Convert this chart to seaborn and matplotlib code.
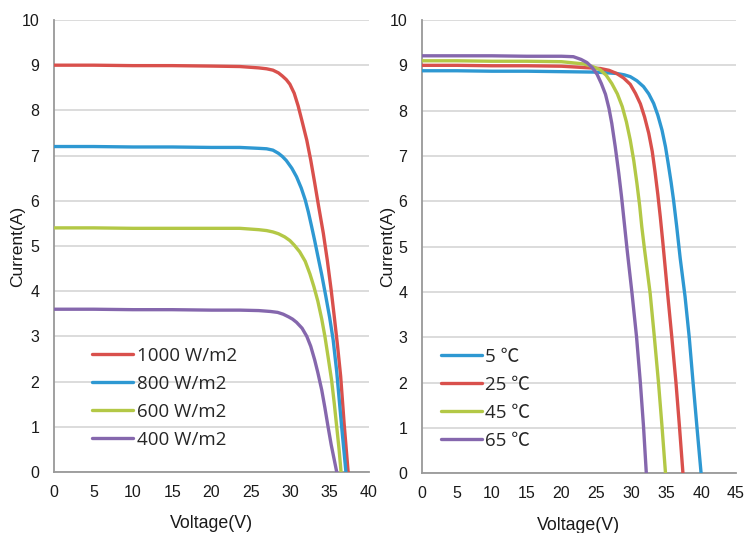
import numpy as np
import pandas as pd
import matplotlib
matplotlib.use("Agg")
import matplotlib.pyplot as plt
from matplotlib.font_manager import FontProperties
import seaborn as sns

# ---- I-V curves at different irradiance (25 C) ----
irr_labels = ["1000 W/m2", "800 W/m2", "600 W/m2", "400 W/m2"]
v_1000 = [0, 5, 10, 15, 20, 23.6, 26, 27, 27.8, 28.5, 29, 29.5, 29.95, 30.5, 31, 31.5, 32.1, 32.6,
          33.1, 33.6, 34.2, 34.7, 35.2, 35.6, 36.0, 36.4, 36.85, 37.35]
i_1000 = [9.0, 9.0, 8.99, 8.99, 8.98, 8.97, 8.94, 8.92, 8.89, 8.83, 8.76, 8.68, 8.58, 8.38, 8.1, 7.76, 7.34, 6.9,
          6.4, 5.88, 5.28, 4.69, 4.02, 3.42, 2.8, 2.12, 1.05, 0.0]
v_800 = [0, 5, 10, 15, 20, 23.6, 26, 27, 27.8, 28.5, 29, 29.5, 30.2, 30.8, 31.4, 31.9, 32.3, 32.7,
         33.1, 33.5, 34.0, 34.5, 35.0, 35.45, 35.9, 36.5, 37.07]
i_800 = [7.2, 7.2, 7.19, 7.19, 7.18, 7.18, 7.16, 7.15, 7.12, 7.05, 6.98, 6.89, 6.72, 6.53, 6.28, 6.02, 5.75, 5.44,
         5.12, 4.78, 4.36, 3.9, 3.42, 2.92, 2.22, 1.05, 0.0]
v_600 = [0, 5, 10, 15, 20, 23.6, 26, 27, 27.8, 28.5, 29.3, 29.95, 30.5, 31.2, 31.9, 32.5, 33.0, 33.5,
         34.0, 34.4, 34.8, 35.25, 35.6, 35.9, 36.2, 36.45]
i_600 = [5.4, 5.4, 5.39, 5.39, 5.39, 5.39, 5.36, 5.34, 5.31, 5.27, 5.2, 5.12, 5.02, 4.87, 4.66, 4.38, 4.1, 3.78,
         3.38, 3.0, 2.55, 2.03, 1.5, 1.0, 0.5, 0.0]
v_400 = [0, 5, 10, 15, 20, 23.6, 26, 27.5, 28.4, 29.1, 29.8, 30.3, 30.8, 31.5, 32.1, 32.6, 33.1, 33.5,
         34.0, 34.4, 34.8, 35.2, 35.55, 35.9]
i_400 = [3.6, 3.6, 3.59, 3.59, 3.58, 3.58, 3.57, 3.55, 3.53, 3.49, 3.43, 3.38, 3.31, 3.18, 3.0, 2.78, 2.48, 2.2,
         1.81, 1.42, 1.0, 0.6, 0.3, 0.0]

# ---- I-V curves at different cell temperature (1000 W/m2) ----
temp_labels = ["5 \u2103", "25 \u2103", "45 \u2103", "65 \u2103"]
v_5 = [0, 5, 10, 15, 20, 25, 27.9, 29.0, 29.85, 30.8, 31.75, 32.5, 33.2, 33.8, 34.4, 34.9, 35.3, 35.7,
       36.05, 36.5, 37.0, 37.7, 38.3, 38.85, 39.4, 40.0]
i_5 = [8.88, 8.88, 8.87, 8.87, 8.86, 8.85, 8.82, 8.79, 8.75, 8.66, 8.53, 8.37, 8.16, 7.9, 7.57, 7.2, 6.82, 6.42,
       6.03, 5.45, 4.75, 3.9, 3.0, 2.0, 1.03, 0.0]
v_25 = [0, 5, 10, 15, 20, 25.55, 26.8, 27.9, 28.9, 29.85, 30.6, 31.3, 31.9, 32.5, 33.0, 33.4, 33.8,
        34.15, 34.5, 34.85, 35.2, 35.8, 36.4, 36.9, 37.4]
i_25 = [9.0, 9.0, 8.99, 8.99, 8.98, 8.93, 8.89, 8.82, 8.72, 8.58, 8.38, 8.15, 7.86, 7.5, 7.1, 6.65, 6.15,
        5.66, 5.12, 4.55, 3.97, 3.01, 2.0, 1.03, 0.0]
v_45 = [0, 5, 10, 15, 20, 23.2, 24.5, 25.55, 26.4, 27.2, 28.0, 28.7, 29.3, 29.85, 30.35, 30.8, 31.2,
        31.5, 31.9, 32.3, 32.7, 33.3, 33.9, 34.4, 34.9]
i_45 = [9.1, 9.1, 9.09, 9.09, 9.08, 9.03, 8.97, 8.9, 8.78, 8.6, 8.37, 8.09, 7.75, 7.35, 6.9, 6.4, 5.9,
        5.44, 4.93, 4.45, 3.97, 3.01, 1.99, 1.03, 0.0]
v_65 = [0, 5, 10, 15, 20, 21.7, 22.8, 23.65, 24.4, 25.1, 25.7, 26.3, 26.8, 27.2, 27.7, 28.2, 28.6,
        28.9, 29.4, 30.1, 30.75, 31.3, 31.75, 32.15]
i_65 = [9.21, 9.21, 9.21, 9.2, 9.2, 9.19, 9.13, 9.06, 8.95, 8.8, 8.6, 8.36, 8.05, 7.72, 7.2, 6.62, 6.1,
        5.66, 4.93, 3.97, 3.01, 1.99, 1.03, 0.0]

RED, BLUE, GREEN, PURPLE = "#d9504c", "#2e98d2", "#b3c846", "#8567ad"
irr_colors = [RED, BLUE, GREEN, PURPLE]
temp_colors = [BLUE, RED, GREEN, PURPLE]


def frame(labels, vs, is_):
    rows = []
    for lab, v, i in zip(labels, vs, is_):
        rows.append(pd.DataFrame({"Voltage": v, "Current": i, "Series": lab}))
    return pd.concat(rows, ignore_index=True)


df_irr = frame(irr_labels, [v_1000, v_800, v_600, v_400], [i_1000, i_800, i_600, i_400])
df_tmp = frame(temp_labels, [v_5, v_25, v_45, v_65], [i_5, i_25, i_45, i_65])

sns.set_theme(style="white")
plt.rcParams["font.family"] = ["Liberation Sans", "DejaVu Sans"]

fig = plt.figure(figsize=(7.45, 5.33), dpi=100)
ax1 = fig.add_axes([0.0725, 0.1146, 0.4228, 0.8479])
ax2 = fig.add_axes([0.5664, 0.1120, 0.4215, 0.8505])

legend_font = FontProperties(family=["Open Sans", "Noto Sans CJK SC", "DejaVu Sans"], size=13.5)

for ax, df, labels, pal, xmax, leg_x, ylab_x in [
    (ax1, df_irr, irr_labels, irr_colors, 40, 0.122, -0.092),
    (ax2, df_tmp, temp_labels, temp_colors, 45, 0.062, -0.084),
]:
    sns.lineplot(data=df, x="Voltage", y="Current", hue="Series", hue_order=labels,
                 palette=pal, estimator=None, sort=False, linewidth=2.4,
                 ax=ax, zorder=3)
    ax.set_xlim(0, xmax)
    ax.set_ylim(0, 10)
    ax.set_xticks(np.arange(0, xmax + 1, 5))
    ax.set_yticks(np.arange(0, 11, 1))
    ax.yaxis.grid(True, color="#d9d9d9", linewidth=1.3)
    ax.xaxis.grid(False)
    for s in ["top", "right"]:
        ax.spines[s].set_visible(False)
    for s in ["left", "bottom"]:
        ax.spines[s].set_color("#999999")
        ax.spines[s].set_linewidth(1.3)
    ax.tick_params(axis="both", which="major", direction="out", length=4.5, width=1.1,
                   color="#999999", labelsize=11.5, labelcolor="#1a1a1a")
    ax.tick_params(axis="x", pad=5)
    ax.tick_params(axis="y", pad=6)
    ax.set_xlabel("Voltage(V)", fontsize=12.8, color="#1a1a1a", labelpad=11)
    ax.set_ylabel("Current(A)", fontsize=12.5, color="#1a1a1a")
    ax.yaxis.set_label_coords(ylab_x, 0.5)
    ax.legend(loc="upper left", bbox_to_anchor=(leg_x, 0.277), frameon=False,
              prop=legend_font, handlelength=2.15, handletextpad=0.2,
              labelspacing=0.53, borderaxespad=0, borderpad=0)
    ax.set_facecolor("white")

fig.savefig("out.png", dpi=100, facecolor="white")
